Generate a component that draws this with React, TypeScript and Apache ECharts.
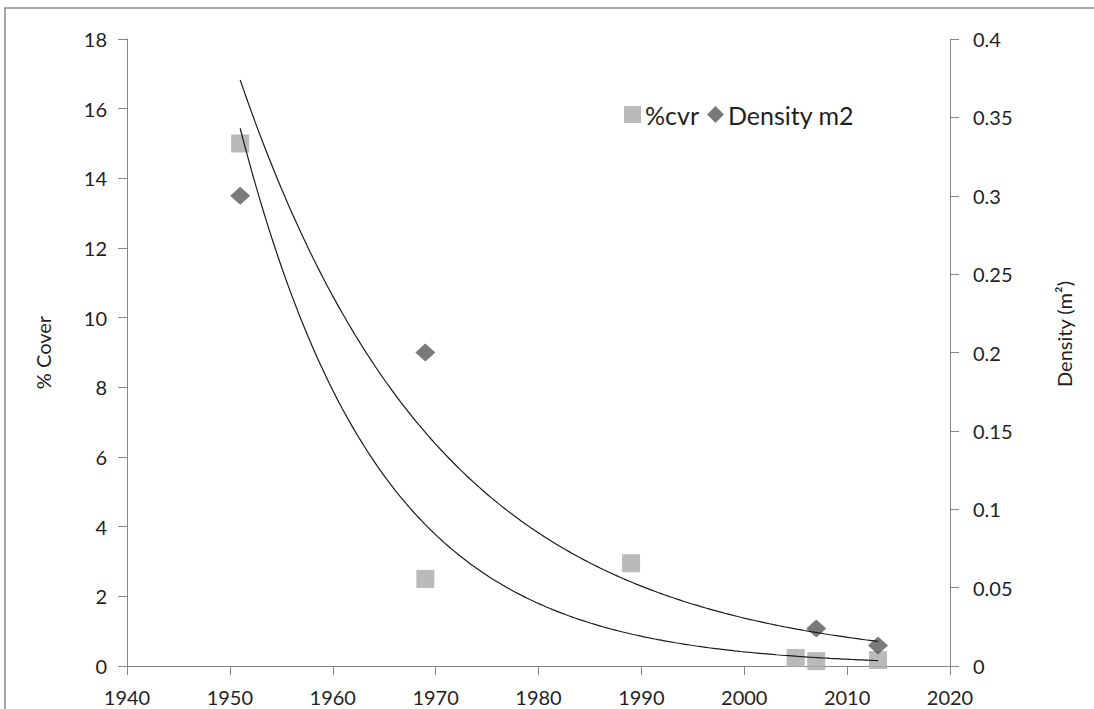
import React, { useEffect, useRef } from "react";
import * as echarts from "echarts";

const coverYears = [1951, 1969, 1989, 2005, 2007, 2013];
const coverValues = [15, 2.5, 2.95, 0.23, 0.14, 0.17];
const densityYears = [1951, 1969, 2007, 2013];
const densityValues = [0.3, 0.2, 0.024, 0.013];
const legendNames = ["%cvr", "Density m2"];
const leftTitle = "% Cover";
const rightTitle = "Density (m²)";

// Excel-style exponential trendline: least squares on ln(y)
function expFit(xs: number[], ys: number[]) {
  const n = xs.length;
  const ly = ys.map((v) => Math.log(v));
  const mx = xs.reduce((s, v) => s + v, 0) / n;
  const my = ly.reduce((s, v) => s + v, 0) / n;
  let sxy = 0;
  let sxx = 0;
  for (let i = 0; i < n; i++) {
    sxy += (xs[i] - mx) * (ly[i] - my);
    sxx += (xs[i] - mx) * (xs[i] - mx);
  }
  const b = sxy / sxx;
  const lnA = my - b * mx;
  return (x: number) => Math.exp(lnA + b * x);
}

function trend(xs: number[], ys: number[]) {
  const f = expFit(xs, ys);
  const lo = Math.min(...xs);
  const hi = Math.max(...xs);
  const pts: number[][] = [];
  const steps = 200;
  for (let i = 0; i <= steps; i++) {
    const x = lo + ((hi - lo) * i) / steps;
    pts.push([x, f(x)]);
  }
  return pts;
}

const FONT = "Lato";
const TEXT = "#1f1f1f";
const AXIS = "#868686";

export default function App() {
  const ref = useRef<HTMLDivElement>(null);
  useEffect(() => {
    if (!ref.current) return;
    const chart = echarts.init(ref.current, undefined, { renderer: "svg" });
    const axisCommon = {
      axisLine: { show: true, lineStyle: { color: AXIS, width: 1 } },
      axisTick: { show: true, inside: false, length: 9, lineStyle: { color: AXIS } },
      splitLine: { show: false },
      axisLabel: { color: TEXT, fontFamily: FONT, fontSize: 20 },
      nameTextStyle: { color: TEXT, fontFamily: FONT, fontSize: 20 },
    };
    chart.setOption({
      animation: false,
      backgroundColor: "#ffffff",
      grid: { left: 127, right: 144, top: 39, bottom: 43, containLabel: false },
      graphic: [
        {
          type: "rect",
          shape: { x: 5, y: 8, width: 1200, height: 800 },
          style: { fill: "none", stroke: "#8a8a8a", lineWidth: 1.5 },
          silent: true,
        },
        {
          type: "text",
          x: 1064,
          y: 334,
          rotation: Math.PI / 2,
          silent: true,
          style: {
            text: rightTitle,
            fill: TEXT,
            font: `20px ${FONT}`,
            textAlign: "center",
            textVerticalAlign: "middle",
          },
        },
      ],
      legend: {
        data: [
          { name: legendNames[0], icon: "rect" },
          { name: legendNames[1], icon: "diamond" },
        ],
        left: 619,
        top: 97,
        itemWidth: 17,
        itemHeight: 17,
        itemGap: 8,
        textStyle: { color: TEXT, fontFamily: FONT, fontSize: 25, padding: [0, 0, 0, -1] },
      },
      xAxis: {
        type: "value",
        min: 1940,
        max: 2020,
        interval: 10,
        ...axisCommon,
        axisLabel: { ...axisCommon.axisLabel, margin: 21, formatter: (v: number) => String(v) },
      },
      yAxis: [
        {
          type: "value",
          position: "left",
          min: 0,
          max: 18,
          interval: 2,
          name: leftTitle,
          nameLocation: "middle",
          nameRotate: 90,
          nameGap: 74,
          ...axisCommon,
          axisLabel: { ...axisCommon.axisLabel, margin: 20 },
        },
        {
          type: "value",
          position: "right",
          min: 0,
          max: 0.4,
          interval: 0.05,
          ...axisCommon,
          axisLabel: { ...axisCommon.axisLabel, margin: 23 },
        },
      ],
      series: [
        {
          name: legendNames[0],
          type: "scatter",
          yAxisIndex: 0,
          symbol: "rect",
          symbolSize: 18,
          itemStyle: { color: "#a9a9a9" },
          data: coverYears.map((x, i) => [x, coverValues[i]]),
          z: 2,
        },
        {
          name: legendNames[1],
          type: "scatter",
          yAxisIndex: 1,
          symbol: "diamond",
          symbolSize: [20, 18],
          itemStyle: { color: "#595959" },
          data: densityYears.map((x, i) => [x, densityValues[i]]),
          z: 3,
        },
        {
          name: "cover trend",
          type: "line",
          yAxisIndex: 0,
          showSymbol: false,
          symbol: "none",
          smooth: false,
          lineStyle: { color: "#1a1a1a", width: 1.2 },
          data: trend(coverYears, coverValues),
          z: 4,
        },
        {
          name: "density trend",
          type: "line",
          yAxisIndex: 1,
          showSymbol: false,
          symbol: "none",
          smooth: false,
          lineStyle: { color: "#1a1a1a", width: 1.2 },
          data: trend(densityYears, densityValues),
          z: 4,
        },
      ],
    });
    return () => chart.dispose();
  }, []);
  return (
    <div
      ref={ref}
      style={{ position: "fixed", left: 0, top: 0, width: 1094, height: 709, background: "#fff" }}
    />
  );
}
